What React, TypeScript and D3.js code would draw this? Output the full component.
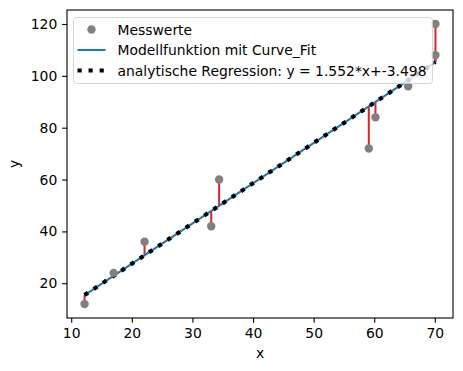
import React, { useEffect, useRef } from 'react';
import * as d3 from 'd3';

const xValues = [12.2, 17.0, 22.1, 33.1, 34.4, 59.1, 60.2, 65.6, 70.1, 70.1];
const yValues = [12, 24, 36, 42, 60, 72, 84, 96, 108, 120];
const slope = 1.552;
const intercept = -3.498;
const xTicks = [10, 20, 30, 40, 50, 60, 70];
const yTicks = [20, 40, 60, 80, 100, 120];
const legendLabels = [
  'Messwerte',
  'Modellfunktion mit Curve_Fit',
  'analytische Regression: y = 1.552*x+-3.498',
];

const W = 463;
const H = 371;
const font = 'DejaVu Sans, sans-serif';

const App: React.FC = () => {
  const svgRef = useRef<SVGSVGElement>(null);

  useEffect(() => {
    document.body.style.margin = '0';
    if (!svgRef.current) return;
    const svg = d3.select(svgRef.current);
    svg.selectAll('*').remove();

    const margin = { top: 10, right: 10, bottom: 53, left: 67 };
    const width = W - margin.left - margin.right;
    const height = H - margin.top - margin.bottom;

    const xMin = d3.min(xValues) as number;
    const xMax = d3.max(xValues) as number;
    const yMin = d3.min(yValues) as number;
    const yMax = d3.max(yValues) as number;
    const xPad = (xMax - xMin) * 0.05;
    const yPad = (yMax - yMin) * 0.05;

    const x = d3.scaleLinear().domain([xMin - xPad, xMax + xPad]).range([0, width]);
    const y = d3.scaleLinear().domain([yMin - yPad, yMax + yPad]).range([height, 0]);
    const model = (v: number) => slope * v + intercept;

    const g = svg.append('g').attr('transform', `translate(${margin.left},${margin.top})`);

    const clip = g.append('g');

    // residuals
    clip.selectAll('.res')
      .data(xValues)
      .enter()
      .append('line')
      .attr('x1', (d) => x(d))
      .attr('x2', (d) => x(d))
      .attr('y1', (d, i) => y(yValues[i]))
      .attr('y2', (d) => y(model(d)))
      .attr('stroke', '#d62728')
      .attr('stroke-width', 2);

    const lineGen = d3.line<number>().x((d) => x(d)).y((d) => y(model(d)));
    const ends = [xMin, xMax];

    clip.append('path')
      .attr('d', lineGen(ends) || '')
      .attr('fill', 'none')
      .attr('stroke', '#1f77b4')
      .attr('stroke-width', 2.08);

    clip.append('path')
      .attr('d', lineGen(ends) || '')
      .attr('fill', 'none')
      .attr('stroke', 'black')
      .attr('stroke-width', 4.17)
      .attr('stroke-dasharray', '4.17 6.88');

    clip.selectAll('.pt')
      .data(xValues)
      .enter()
      .append('circle')
      .attr('cx', (d) => x(d))
      .attr('cy', (d, i) => y(yValues[i]))
      .attr('r', 4.2)
      .attr('fill', 'gray');

    // frame
    g.append('rect')
      .attr('width', width)
      .attr('height', height)
      .attr('fill', 'none')
      .attr('stroke', 'black')
      .attr('stroke-width', 1.1);

    const xAxis = g.append('g')
      .attr('transform', `translate(0,${height})`)
      .call(d3.axisBottom(x).tickValues(xTicks).tickSize(4.86).tickPadding(4.9).tickFormat(d3.format('d')));
    const yAxis = g.append('g')
      .call(d3.axisLeft(y).tickValues(yTicks).tickSize(4.86).tickPadding(4.9).tickFormat(d3.format('d')));
    [xAxis, yAxis].forEach((a) => {
      a.select('.domain').remove();
      a.selectAll('line').attr('stroke', 'black').attr('stroke-width', 1.1);
      a.selectAll('text').attr('font-family', font).attr('font-size', 13.9).attr('fill', 'black');
    });

    g.append('text')
      .attr('x', width / 2)
      .attr('y', height + 40)
      .attr('text-anchor', 'middle')
      .attr('font-family', font)
      .attr('font-size', 13.9)
      .text('x');
    g.append('text')
      .attr('transform', `translate(${-48},${height / 2}) rotate(-90)`)
      .attr('text-anchor', 'middle')
      .attr('font-family', font)
      .attr('font-size', 13.9)
      .text('y');

    // legend
    const lg = g.append('g').attr('transform', 'translate(6.5,7.5)');
    lg.append('rect')
      .attr('width', 359)
      .attr('height', 66)
      .attr('rx', 3)
      .attr('fill', 'white')
      .attr('fill-opacity', 0.8)
      .attr('stroke', '#cccccc')
      .attr('stroke-opacity', 0.8);
    const rowY = [12, 32.5, 53];
    lg.append('circle').attr('cx', 18).attr('cy', rowY[0]).attr('r', 4.2).attr('fill', 'gray');
    lg.append('line')
      .attr('x1', 4).attr('x2', 32).attr('y1', rowY[1]).attr('y2', rowY[1])
      .attr('stroke', '#1f77b4').attr('stroke-width', 2.08);
    lg.append('line')
      .attr('x1', 4).attr('x2', 32).attr('y1', rowY[2]).attr('y2', rowY[2])
      .attr('stroke', 'black').attr('stroke-width', 4.17).attr('stroke-dasharray', '4.17 6.88');
    lg.selectAll('.lt')
      .data(legendLabels)
      .enter()
      .append('text')
      .attr('x', 44)
      .attr('y', (d, i) => rowY[i] + 5)
      .attr('font-family', font)
      .attr('font-size', 13.9)
      .text((d) => d);
  }, []);

  return <svg ref={svgRef} width={W} height={H} style={{ display: 'block' }} />;
};

export default App;
